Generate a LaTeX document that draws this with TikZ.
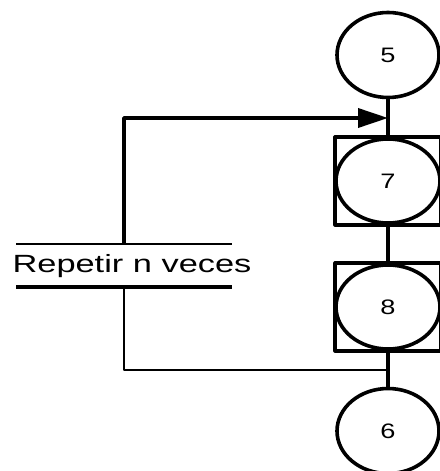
\documentclass[tikz,border=0pt]{standalone}
\usepackage{fontspec}
\setmainfont{Liberation Sans}
\usepackage{graphicx}
\usetikzlibrary{arrows.meta, positioning, shapes.geometric}

\begin{document}
\begin{tikzpicture}[
    x=1bp, y=-1bp,
    line join=round,
    >={Triangle[length=30bp, width=19bp]},
    etapa/.style={draw, ellipse, line width=3.6bp, minimum width=102bp,
      minimum height=85bp, inner sep=0pt, font=\fontsize{21}{21}\selectfont},
    caja/.style={draw, rectangle, line width=3.2bp, minimum width=106bp,
      minimum height=88bp},
    enlace/.style={line width=3.6bp}
]

  % ==================== PARAMETROS ====================
  \def\xE{388}      % eje de las etapas
  \def\xL{124}      % eje del bucle
  \def\sx{1.3}      % estirado horizontal del texto

  \useasboundingbox (0,0) rectangle (440,471);

  % ==================== 1. ETAPAS ====================
  \node[caja] (box7) at (\xE,181) {};
  \node[caja] (box8) at (\xE,307) {};

  \node[etapa] (n5) at (\xE,55)  {\scalebox{\sx}[1]{5}};
  \node[etapa, minimum width=104bp, minimum height=84bp] (n7) at (\xE,181) {\scalebox{\sx}[1]{7}};
  \node[etapa, minimum width=104bp, minimum height=84bp] (n8) at (\xE,307) {\scalebox{\sx}[1]{8}};
  \node[etapa] (n6) at (\xE,431) {\scalebox{\sx}[1]{6}};

  % ==================== 2. ENLACES ====================
  \draw[enlace] (n5) -- (box7);
  \draw[enlace] (box7) -- (box8);
  \draw[enlace] (box8) -- (n6);

  % ==================== 3. REPETICION ====================
  \node[font=\fontsize{25}{25}\selectfont, inner sep=0pt] (rep) at (132,266)
    {\scalebox{1.38}[1]{Repetir n veces}};
  \draw[line width=2.6bp] (16,244) -- (232,244);
  \draw[line width=4.4bp] (16,287) -- (232,287);

  \coordinate (bt) at (\xL,244);
  \coordinate (bb) at (\xL,287);
  \coordinate (j57) at (\xE,118);
  \coordinate (j86) at (\xE,370);

  \draw[line width=2.6bp] (j86) -| (bb);
  \draw[enlace, ->] (bt) |- (j57);

\end{tikzpicture}
\end{document}
